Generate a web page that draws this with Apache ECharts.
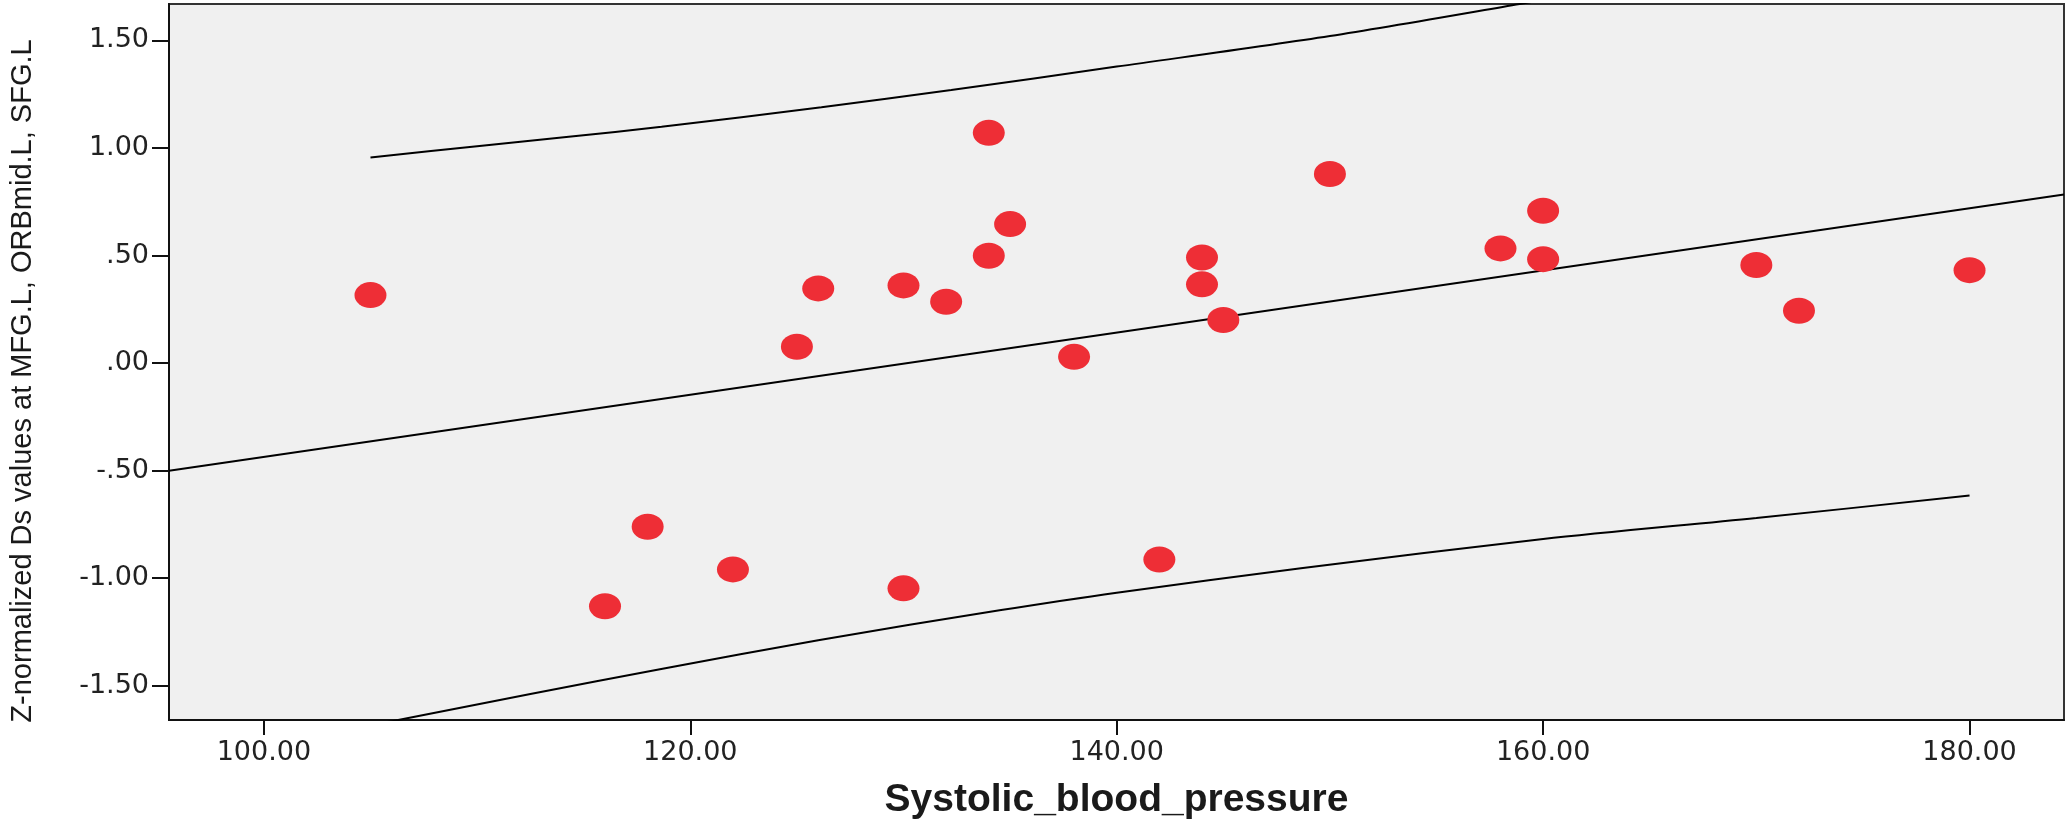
<!DOCTYPE html>
<html>
<head>
<meta charset="utf-8">
<style>
html,body{margin:0;padding:0;background:#fff;}
#chart{width:2072px;height:833px;}
</style>
<script src="https://cdn.jsdelivr.net/npm/echarts@6/dist/echarts.min.js"></script>
</head>
<body>
<div id="chart"></div>
<script>
// Data points (Systolic blood pressure vs Z-normalized Ds)
const sbp  = [105, 116, 118, 122, 125, 126, 130, 130, 132, 134, 134, 135, 138, 142, 144, 144, 145, 150, 158, 160, 160, 170, 172, 180];
const zval = [0.316, -1.130, -0.761, -0.959, 0.076, 0.347, 0.361, -1.047, 0.285, 1.070, 0.499, 0.646, 0.029, -0.913, 0.491, 0.366, 0.200, 0.879, 0.533, 0.708, 0.483, 0.456, 0.243, 0.432];

// Fit line (read at the plot edges)
const fitX = [95.55, 184.43];
const fitY = [-0.50, 0.784];

// Upper and lower interval curves
const upperX = [105, 110, 114.3, 118.65, 126.15, 132.24, 140, 150, 158.9, 170, 180];
const upperY = [0.956, 1.008, 1.052, 1.098, 1.189, 1.269, 1.378, 1.52, 1.669, 1.86, 2.05];
const lowerX = [105, 106.3, 112.5, 118.7, 126, 134.58, 140, 148.64, 160, 170, 180];
const lowerY = [-1.682, -1.659, -1.538, -1.421, -1.288, -1.148, -1.067, -0.954, -0.818, -0.72, -0.616];

// Ticks
const xTickValues = [100, 120, 140, 160, 180];
const xTickLabels = ['100.00', '120.00', '140.00', '160.00', '180.00'];
const yTickValues = [-1.5, -1, -0.5, 0, 0.5, 1, 1.5];
const yTickLabels = ['-1.50', '-1.00', '-.50', '.00', '.50', '1.00', '1.50'];

const xTitle = 'Systolic_blood_pressure';
const yTitle = 'Z-normalized Ds values at MFG.L, ORBmid.L, SFG.L';

const zip = (a, b) => a.map((v, i) => [v, b[i]]);

const chart = echarts.init(document.getElementById('chart'), null, {renderer: 'canvas'});
chart.setOption({
  animation: false,
  backgroundColor: '#ffffff',
  grid: {
    left: 167, right: 8, top: 4, bottom: 113,
    show: true, backgroundColor: '#f0f0f0', borderColor: '#333', borderWidth: 2
  },
  xAxis: {
    type: 'value', min: 95.55, max: 184.43,
    splitLine: {show: false},
    axisLine: {show: true, onZero: false, lineStyle: {color: '#111', width: 2}},
    axisTick: {show: true, length: 15, customValues: xTickValues, lineStyle: {color: '#111', width: 2}},
    axisLabel: {
      customValues: xTickValues, margin: 19,
      fontFamily: 'DejaVu Sans', fontSize: 27, color: '#222',
      formatter: v => xTickLabels[xTickValues.indexOf(v)] ?? ''
    },
    name: xTitle, nameLocation: 'middle', nameGap: 61,
    nameTextStyle: {fontFamily: 'Liberation Sans', fontWeight: 'bold', fontSize: 39, color: '#1a1a1a'}
  },
  yAxis: {
    type: 'value', min: -1.659, max: 1.669,
    splitLine: {show: false},
    axisLine: {show: true, onZero: false, lineStyle: {color: '#111', width: 2}},
    axisTick: {show: true, length: 17, customValues: yTickValues, lineStyle: {color: '#111', width: 2}},
    axisLabel: {
      customValues: yTickValues, margin: 20,
      fontFamily: 'DejaVu Sans', fontSize: 27, color: '#222',
      formatter: v => yTickLabels[yTickValues.indexOf(v)] ?? ''
    },
    name: yTitle, nameLocation: 'middle', nameGap: 132,
    nameTextStyle: {fontFamily: 'Liberation Sans', fontSize: 29, color: '#1a1a1a', padding: [0, 38, 0, 0]}
  },
  series: [
    {
      type: 'line', data: zip(fitX, fitY), symbol: 'none', clip: true,
      lineStyle: {color: '#000', width: 2}, z: 2
    },
    {
      type: 'line', data: zip(upperX, upperY), symbol: 'none', smooth: 0.3, clip: true,
      lineStyle: {color: '#000', width: 2}, z: 2
    },
    {
      type: 'line', data: zip(lowerX, lowerY), symbol: 'none', smooth: 0.3, clip: true,
      lineStyle: {color: '#000', width: 2}, z: 2
    },
    {
      type: 'scatter', data: zip(sbp, zval), symbol: 'circle', symbolSize: [32, 26],
      itemStyle: {color: '#ee2e36', opacity: 1}, z: 3
    }
  ]
});
</script>
</body>
</html>
